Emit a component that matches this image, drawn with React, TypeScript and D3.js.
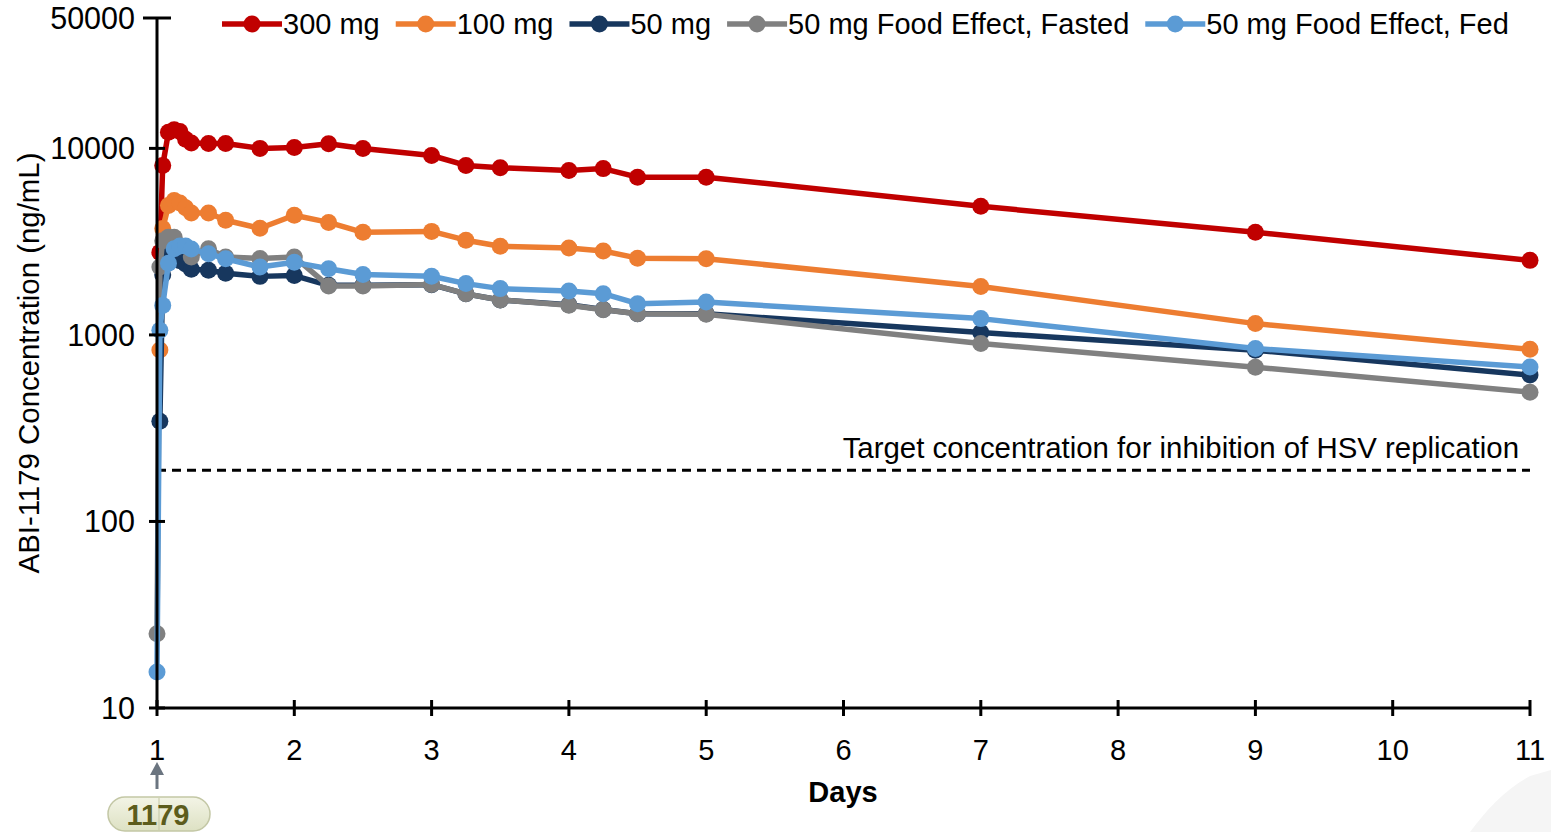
import * as d3 from 'd3';
import React, { useRef, useEffect } from 'react';

// sampling times in hours after the first dose (day 1)
const hours = [0, 0.5, 1, 2, 3, 4, 5, 6, 9, 12, 18, 24, 30, 36, 48, 54, 60, 72, 78, 84, 96, 144, 192, 240];

// concentrations in ng/mL, null where a group has no sample
const conc300 = [null, 2770, 8100, 12200, 12600, 12300, 11200, 10700, 10620, 10620, 10000, 10100, 10600, 9990, 9160, 8100, 7870, 7620, 7790, 7010, 7010, 4890, 3550, 2510];
const conc100 = [null, 830, 3720, 4940, 5260, 5100, 4800, 4500, 4500, 4120, 3730, 4380, 4010, 3550, 3590, 3220, 2990, 2920, 2820, 2580, 2560, 1820, 1150, 837];
const conc50 = [null, 345, 2100, 2650, 2700, 2500, 2400, 2250, 2220, 2140, 2060, 2080, 1845, 1845, 1860, 1660, 1540, 1450, 1370, 1300, 1300, 1030, 828, 609];
const concFasted = [25, 2310, 3200, 3340, 3340, 3000, null, 2620, 2900, 2620, 2570, 2620, 1830, 1830, 1866, 1660, 1540, 1442, 1366, 1300, 1290, 900, 671, 493];
const concFed = [15.6, 1060, 1440, 2420, 2900, 3000, 3000, 2890, 2725, 2560, 2310, 2450, 2265, 2110, 2063, 1884, 1771, 1718, 1664, 1471, 1501, 1223, 845, 673];

const seriesNames = ['300 mg', '100 mg', '50 mg', '50 mg Food Effect, Fasted', '50 mg Food Effect, Fed'];
const seriesColors = ['#C00000', '#ED7D31', '#17375E', '#808080', '#5B9BD5'];
const seriesValues = [conc300, conc100, conc50, concFasted, concFed];

const dayTicks = [1, 2, 3, 4, 5, 6, 7, 8, 9, 10, 11];
const concTicks = [10, 100, 1000, 10000, 50000];
const targetConc = 188;

const FONT = '"Liberation Sans", Arial, sans-serif';

export default function App() {
  const svgRef = useRef<SVGSVGElement>(null);

  useEffect(() => {
    const svg = d3.select(svgRef.current);
    svg.selectAll('*').remove();

    const x = d3.scaleLinear().domain([1, 11]).range([157, 1530]);
    const y = d3.scaleLog().domain([10, 50000]).range([708, 18]);

    const g = svg.append('g').attr('font-family', FONT).attr('font-size', 29);

    // target dashed line + label
    g.append('line')
      .attr('x1', x(1)).attr('x2', x(11))
      .attr('y1', y(targetConc)).attr('y2', y(targetConc))
      .attr('stroke', '#000').attr('stroke-width', 3).attr('stroke-dasharray', '9,6');
    g.append('text')
      .attr('x', 1519).attr('y', y(targetConc) - 12)
      .attr('text-anchor', 'end')
      .attr('font-size', 29.4)
      .text('Target concentration for inhibition of HSV replication');

    // series
    const line = d3.line<[number, number]>()
      .x(d => x(1 + d[0] / 24))
      .y(d => y(d[1]));

    seriesValues.forEach((vals, i) => {
      const pts = hours
        .map((h, j) => [h, vals[j]] as [number, number | null])
        .filter(d => d[1] != null) as [number, number][];
      const sg = g.append('g');
      sg.append('path')
        .attr('d', line(pts))
        .attr('fill', 'none')
        .attr('stroke', seriesColors[i])
        .attr('stroke-width', 5.5)
        .attr('stroke-linejoin', 'round');
      sg.selectAll('circle')
        .data(pts)
        .join('circle')
        .attr('cx', d => x(1 + d[0] / 24))
        .attr('cy', d => y(d[1]))
        .attr('r', 8.5)
        .attr('fill', seriesColors[i]);
    });

    // axes
    g.append('line')
      .attr('x1', x(1)).attr('x2', x(1)).attr('y1', y(50000)).attr('y2', y(10))
      .attr('stroke', '#000').attr('stroke-width', 3);
    g.append('line')
      .attr('x1', x(1)).attr('x2', x(11)).attr('y1', y(10)).attr('y2', y(10))
      .attr('stroke', '#000').attr('stroke-width', 3);

    concTicks.forEach(t => {
      const half = t === 50000 ? 14 : 8;
      g.append('line')
        .attr('x1', x(1) - half).attr('x2', x(1) + half)
        .attr('y1', y(t)).attr('y2', y(t))
        .attr('stroke', '#000').attr('stroke-width', 3);
      g.append('text')
        .attr('x', 135).attr('y', y(t))
        .attr('text-anchor', 'end')
        .attr('dominant-baseline', 'central')
        .attr('font-size', 30.5)
        .text(t);
    });

    dayTicks.forEach(t => {
      g.append('line')
        .attr('x1', x(t)).attr('x2', x(t))
        .attr('y1', y(10) - 8).attr('y2', y(10) + 8)
        .attr('stroke', '#000').attr('stroke-width', 3);
      g.append('text')
        .attr('x', x(t)).attr('y', 760)
        .attr('text-anchor', 'middle')
        .text(t);
    });

    g.append('text')
      .attr('x', 843).attr('y', 802)
      .attr('text-anchor', 'middle')
      .attr('font-weight', 'bold')
      .text('Days');

    g.append('text')
      .attr('transform', 'translate(28,363) rotate(-90)')
      .attr('text-anchor', 'middle')
      .attr('dominant-baseline', 'central')
      .attr('font-size', 29.4)
      .text('ABI-1179 Concentration (ng/mL)');

    // legend
    let cx = 222;
    seriesNames.forEach((name, i) => {
      const lg = g.append('g');
      lg.append('line')
        .attr('x1', cx).attr('x2', cx + 60).attr('y1', 24).attr('y2', 24)
        .attr('stroke', seriesColors[i]).attr('stroke-width', 5.5);
      lg.append('circle').attr('cx', cx + 30).attr('cy', 24).attr('r', 8.5).attr('fill', seriesColors[i]);
      const txt = lg.append('text')
        .attr('x', cx + 61).attr('y', 24)
        .attr('dominant-baseline', 'central')
        .text(name);
      const w = (txt.node() as SVGTextElement).getComputedTextLength();
      cx = cx + 61 + w + 16;
    });

    // compound badge below day 1
    const bx = x(1);
    g.append('line')
      .attr('x1', bx).attr('x2', bx).attr('y1', 789).attr('y2', 772)
      .attr('stroke', '#6b7580').attr('stroke-width', 3);
    g.append('path')
      .attr('d', `M${bx},762 L${bx - 7},775 L${bx + 7},775 Z`)
      .attr('fill', '#6b7580');
    const grad = svg.append('defs').append('linearGradient')
      .attr('id', 'pill').attr('x1', 0).attr('x2', 0).attr('y1', 0).attr('y2', 1);
    grad.append('stop').attr('offset', '0%').attr('stop-color', '#f3f4e6');
    grad.append('stop').attr('offset', '100%').attr('stop-color', '#dde1c3');
    g.append('rect')
      .attr('x', 108).attr('y', 797).attr('width', 102).attr('height', 34).attr('rx', 17)
      .attr('fill', 'url(#pill)').attr('stroke', '#c3c7a5').attr('stroke-width', 1.5);
    g.append('line')
      .attr('x1', 159).attr('x2', 159).attr('y1', 798).attr('y2', 830)
      .attr('stroke', '#c3c7a5').attr('stroke-width', 1);
    g.append('text')
      .attr('x', 158).attr('y', 815)
      .attr('text-anchor', 'middle').attr('dominant-baseline', 'central')
      .attr('font-weight', 'bold').attr('font-size', 29)
      .attr('fill', '#5c5c1c')
      .text('1179');

    // faint corner shape
    g.append('path')
      .attr('d', 'M1470,832 C1488,808 1505,790 1530,776 L1551,770 L1551,832 Z')
      .attr('fill', '#f5f5f5');
  }, []);

  return (
    <svg
      ref={svgRef}
      width={1551}
      height={832}
      style={{ position: 'absolute', left: 0, top: 0, background: '#fff', display: 'block' }}
    />
  );
}
